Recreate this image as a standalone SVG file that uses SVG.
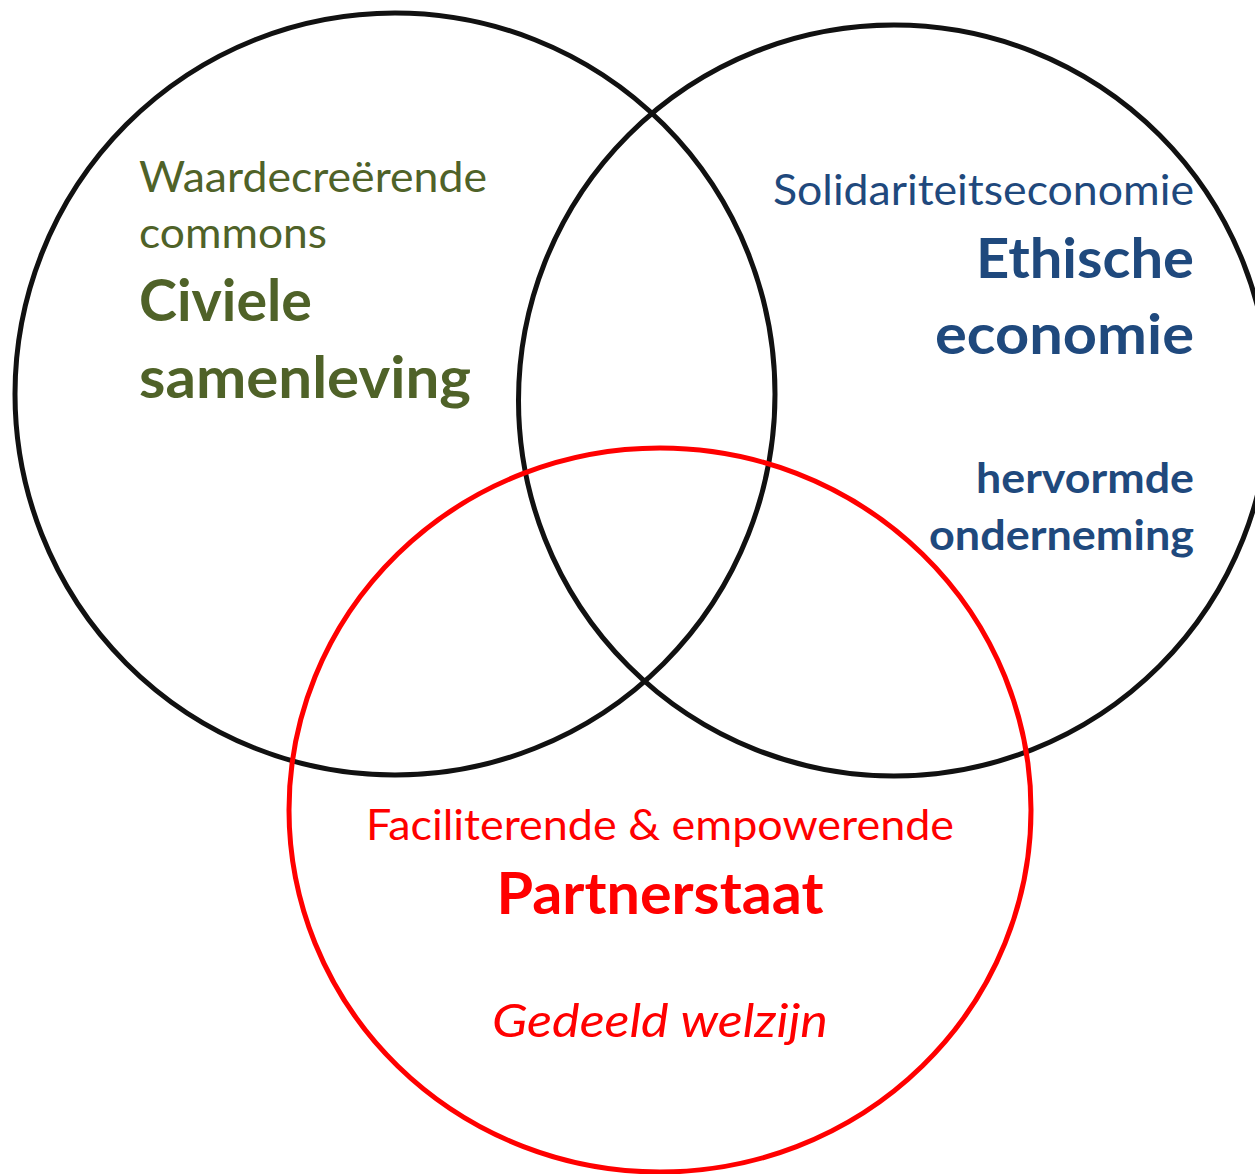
<svg xmlns="http://www.w3.org/2000/svg" width="1255" height="1174" viewBox="0 0 1255 1174">
<style>
.ring{fill:none;stroke:#111;stroke-width:5}
.ring-red{fill:none;stroke:#ff0000;stroke-width:5}
text{font-family:Lato,"Open Sans","Liberation Sans",sans-serif}
.g{fill:#4f6228}
.b{fill:#1f497d}
.r{fill:#ff0000}
.bold{font-weight:700}
</style>
<rect width="1255" height="1174" fill="#ffffff"/>
<g id="civiele-samenleving">
<ellipse class="ring" cx="395" cy="394" rx="380" ry="381"/>
<text class="g" x="139" y="192" font-size="43" textLength="348" lengthAdjust="spacingAndGlyphs">Waardecreërende</text>
<text class="g" x="139" y="248" font-size="43" textLength="188" lengthAdjust="spacingAndGlyphs">commons</text>
<text class="g bold" x="139" y="321" font-size="57" textLength="173" lengthAdjust="spacingAndGlyphs">Civiele</text>
<text class="g bold" x="139" y="398" font-size="57" textLength="332" lengthAdjust="spacingAndGlyphs">samenleving</text>
</g>
<g id="ethische-economie">
<circle class="ring" cx="894" cy="400.5" r="375.5"/>
<text class="b" x="1194" y="205" font-size="42" text-anchor="end" textLength="421" lengthAdjust="spacingAndGlyphs">Solidariteitseconomie</text>
<text class="b bold" x="1194" y="278" font-size="56" text-anchor="end" textLength="218" lengthAdjust="spacingAndGlyphs">Ethische</text>
<text class="b bold" x="1194" y="354" font-size="56" text-anchor="end" textLength="259" lengthAdjust="spacingAndGlyphs">economie</text>
<text class="b bold" x="1194" y="493" font-size="42" text-anchor="end" textLength="218" lengthAdjust="spacingAndGlyphs">hervormde</text>
<text class="b bold" x="1194" y="550" font-size="42" text-anchor="end" textLength="265" lengthAdjust="spacingAndGlyphs">onderneming</text>
</g>
<g id="partnerstaat">
<ellipse class="ring-red" cx="660" cy="810" rx="371" ry="362"/>
<text class="r" x="660" y="840" font-size="42" text-anchor="middle" textLength="588" lengthAdjust="spacingAndGlyphs">Faciliterende &amp; empowerende</text>
<text class="r bold" x="660" y="914" font-size="58" text-anchor="middle" textLength="327" lengthAdjust="spacingAndGlyphs">Partnerstaat</text>
<text class="r" x="660" y="1037" font-size="46" font-style="italic" text-anchor="middle" textLength="336" lengthAdjust="spacingAndGlyphs">Gedeeld welzijn</text>
</g>
<g id="connectors"/>
</svg>
